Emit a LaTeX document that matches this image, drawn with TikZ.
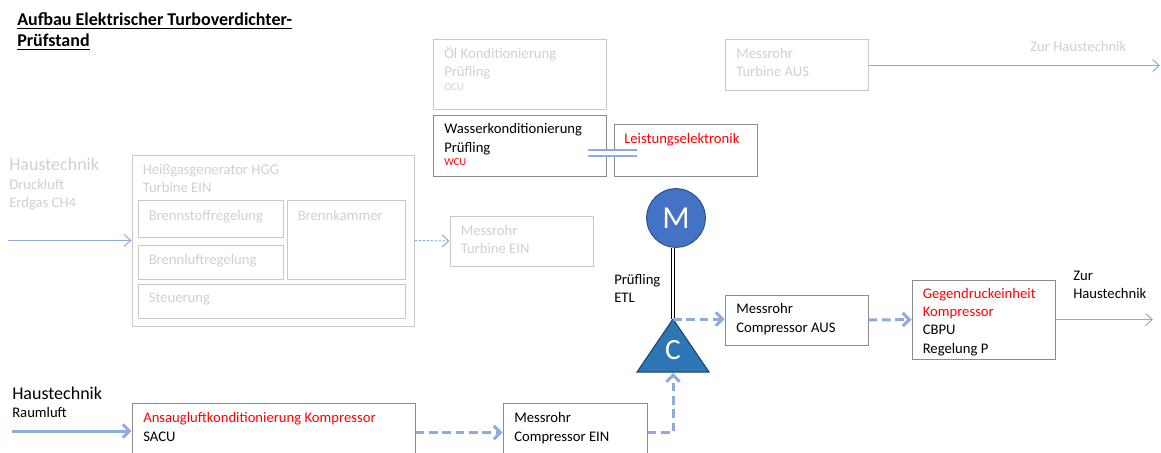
\documentclass[tikz,border=0pt]{standalone}
\usepackage{fontspec}
\setmainfont{Carlito}
\usetikzlibrary{arrows.meta,positioning,fit}

\definecolor{lineblue}{HTML}{8FAADC}
\definecolor{fadeline}{HTML}{C8C8C8}
\definecolor{fadetext}{HTML}{D0D0D0}
\definecolor{boxline}{HTML}{8C8C8C}
\definecolor{motorblue}{HTML}{4472C4}
\definecolor{compblue}{HTML}{2E75B6}
\definecolor{warnred}{HTML}{FF0000}

\begin{document}
\begin{tikzpicture}[x=0.75pt, y=-0.75pt,
  every node/.style={font=\fontsize{11}{13.8}\selectfont},
  box/.style={draw=boxline, line width=0.75pt, inner sep=0pt},
  fadebox/.style={draw=fadeline, line width=0.75pt, inner sep=0pt},
  txt/.style={anchor=base west, align=left, inner sep=0pt},
  fadetxt/.style={txt, text=fadetext},
  small/.style={font=\fontsize{8}{9}\selectfont},
  big/.style={font=\fontsize{13.5}{16}\selectfont},
  pipe/.style={draw=lineblue, line width=0.75pt, -{Straight Barb[length=5pt, width=9pt]}},
  flow/.style={draw=lineblue, line width=2.25pt, dash pattern=on 6.5pt off 3.5pt, -{Straight Barb[length=5pt, width=10pt]}},
  feed/.style={draw=lineblue, line width=2.25pt, -{Straight Barb[length=5pt, width=10pt]}},
  shaft/.style={draw=black, line width=0.9pt, double=white, double distance=1.4pt}]
\path[use as bounding box] (0,0) rectangle (1161,453);

\node[txt, font=\fontsize{13.5}{16}\bfseries] (title1) at (17,26) {\underline{Aufbau Elektrischer Turboverdichter-}};
\node[txt, font=\fontsize{13.5}{16}\bfseries] (title2) at (17,47) {\underline{Prüfstand}};

\node[fadebox, fit={(433,40) (606,110)}] (ocu) {};
\node[fadetxt] (ocutxt) at (444,76.5) {Öl Konditionierung\\Prüfling};
\node[fadetxt, small] (ocusub) at (444,90.5) {OCU};
\node[box, fit={(433,116) (606,176)}] (wcu) {};
\node[txt] (wcutxt) at (444,152) {Wasserkonditionierung\\Prüfling};
\node[txt, small, text=warnred] (wcusub) at (444,166) {WCU};
\node[box, fit={(614,125) (757,176)}] (lei) {};
\node[txt, text=warnred] (leitxt) at (624,143) {Leistungselektronik};
\node[fadebox, fit={(725,40) (868,91)}] (mta) {};
\node[fadetxt] (mtatxt) at (736,77) {Messrohr\\Turbine AUS};
\node[fadetxt] (zur1) at (1030,52) {Zur Haustechnik};
\coordinate (out1) at (1160,65.5);

\node[fadetxt, big] (haus1) at (9,171) {Haustechnik};
\node[fadetxt] (haus1sub) at (9,207.5) {Druckluft\\Erdgas CH4};
\coordinate (in1) at (8,240.5);

\node[fadebox, fit={(132,155) (414,326)}] (hgg) {};
\node[fadetxt] (hggtxt) at (142.5,192.5) {Heißgasgenerator HGG\\Turbine EIN};
\node[fadebox, fit={(138,200) (283,237)}] (bsr) {};
\node[fadetxt] (bsrtxt) at (148.5,220) {Brennstoffregelung};
\node[fadebox, fit={(138,245) (283,279)}] (blr) {};
\node[fadetxt] (blrtxt) at (148.5,264) {Brennluftregelung};
\node[fadebox, fit={(287,200) (405,279)}] (bk) {};
\node[fadetxt] (bktxt) at (297.5,220) {Brennkammer};
\node[fadebox, fit={(138,284) (405,318)}] (steu) {};
\node[fadetxt] (steutxt) at (148.5,302.5) {Steuerung};
\node[fadebox, fit={(450,216) (593,266)}] (mte) {};
\node[fadetxt] (mtetxt) at (460.5,253.5) {Messrohr\\Turbine EIN};

\node[circle, fill=motorblue, draw=motorblue!70!black, line width=0.75pt, minimum size=44pt, inner sep=0pt, text=white, font=\fontsize{24}{24}\selectfont] (mot) at (676,218) {M};
\draw[fill=compblue, draw=compblue!55!black, line width=0.75pt] (673,319) coordinate (capex) -- (709,372) -- (637,372) -- cycle;
\coordinate (cbot) at (673,373);
\node[text=white, font=\fontsize{22}{22}\selectfont, inner sep=0pt] (ctxt) at (673,350) {C};
\node[txt] (etl) at (614,302.5) {Prüfling\\ETL};

\node[box, fit={(725,295) (868,345)}] (cau) {};
\node[txt] (cautxt) at (736,332) {Messrohr\\Compressor AUS};
\node[box, fit={(912,280) (1055,359)}] (cbpu) {};
\node[txt] (cbputxt) at (922.5,353.3) {\textcolor{warnred}{Gegendruckeinheit}\\\textcolor{warnred}{Kompressor}\\CBPU\\Regelung P};
\node[txt] (zur2) at (1073,298.5) {Zur\\Haustechnik};
\coordinate (out2) at (1153,319.5);

\node[txt, big] (haus2) at (12,399) {Haustechnik};
\node[txt] (haus2sub) at (12,417.5) {Raumluft};
\coordinate (in2) at (12,431);
\node[box, fit={(132,403) (415,462)}] (sacu) {};
\node[txt] (sacutxt) at (143,441) {\textcolor{warnred}{Ansaugluftkonditionierung Kompressor}\\SACU};
\node[box, fit={(503,403) (647,462)}] (mce) {};
\node[txt] (mcetxt) at (514,441) {Messrohr\\Compressor EIN};

\coordinate (ws) at (588,153);
\coordinate (le) at (637,153);

\draw[pipe] (in1) -- (hgg.west);
\draw[pipe, dash pattern=on 2pt off 1pt] (hgg.east) -- (mte.west);
\draw[pipe] (mta.east) -- (out1);
\draw[draw=lineblue, line width=1.5pt, double=white, double distance=2.5pt] (ws) -- (le);
\draw[shaft] (mot.south -| capex) -- (capex);
\draw[flow] (capex) -- (capex -| cau.west);
\draw[flow] (cau.east) -- (cbpu.west);
\draw[pipe] (cbpu.east) -- (out2);
\draw[feed] (in2) -- (in2 -| sacu.west);
\draw[flow] (sacu.east) -- (mce.west);
\draw[flow] (mce.east) -| (cbot);
\end{tikzpicture}
\end{document}
